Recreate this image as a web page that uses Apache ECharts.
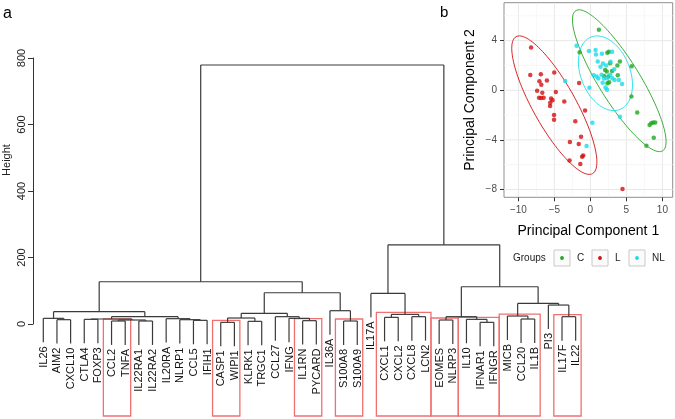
<!DOCTYPE html>
<html><head><meta charset="utf-8">
<script src="https://cdn.jsdelivr.net/npm/echarts@6/dist/echarts.min.js"></script>
<style>html,body{margin:0;padding:0;background:#fff}#c{width:675px;height:419px}</style>
</head><body><div id="c"></div>
<script>
// ---------------- DATA ----------------
// (a) dendrogram leaves, left to right
const leafLabels = ['IL26','AIM2','CXCL10','CTLA4','FOXP3','CCL2','TNFA','IL22RA1','IL22RA2','IL20RA',
  'NLRP1','CCL5','IFIH1','CASP1','WIPI1','KLRK1','TRGC1','CCL27','IFNG','IL1RN',
  'PYCARD','IL36A','S100A8','S100A9','IL17A','CXCL1','CXCL2','CXCL8','LCN2','EOMES',
  'NLRP3','IL10','IFNAR1','IFNGR','MICB','CCL20','IL1B','PI3','IL17F','IL22'];
// merges: [left child, right child, height]; string = leaf, number = earlier merge index
const merges = [
  ['AIM2','CXCL10',13], ['IL26',0,17], ['CTLA4','FOXP3',14], ['CCL2','TNFA',9], ['IL22RA1','IL22RA2',9],
  [3,4,12], [2,5,15], ['CCL5','IFIH1',11], ['NLRP1',7,13], ['IL20RA',8,16],
  [6,9,22], [1,10,37], ['CASP1','WIPI1',5], ['KLRK1','TRGC1',8], [12,13,18],
  ['IL1RN','PYCARD',10], ['IFNG',15,17], ['CCL27',16,22], [14,17,32], ['S100A8','S100A9',9],
  ['IL36A',19,40], [18,20,94], [11,21,127], ['CXCL1','CXCL2',20], ['CXCL8','LCN2',22],
  [23,24,29], ['IL17A',25,92], ['EOMES','NLRP3',12], ['IFNAR1','IFNGR',5], ['IL10',28,14],
  [27,29,22], ['CCL20','IL1B',15], ['MICB',31,24], ['IL17F','IL22',22], ['PI3',33,57],
  [32,34,62], [30,35,112], [26,36,238], [22,37,779]
];
// red boxes: [first leaf, last leaf]
const boxGroups = [['CCL2','TNFA'],['CASP1','WIPI1'],['IL1RN','PYCARD'],['S100A8','S100A9'],
  ['CXCL1','LCN2'],['EOMES','NLRP3'],['IL10','IFNGR'],['MICB','IL1B'],['IL17F','IL22']];
const heightTicks = [0,200,400,600,800];

// (b) PCA scatter
const groupNames = ['C','L','NL'];
const pointsC = [[1.18,4.87],[-1.5,3.06],[2.35,3.02],[2.58,3.1],[4.1,2.31],[3.75,2.0],[2.73,2.18],[2.04,1.64],
  [2.27,1.51],[3.01,1.56],[3.8,1.21],[1.9,1.16],[2.5,1.1],[2.6,0.65],[2.37,0.56],[5.74,1.93],[5.7,-0.51],
  [6.5,-1.8],[8.22,-2.8],[8.45,-2.66],[8.7,-2.6],[9.0,-2.6],[8.8,-3.82],[7.78,-4.47]];
const pointsL = [[-8.24,3.44],[-8.35,1.24],[-6.88,1.29],[-7.08,0.72],[-6.82,0.45],[-6.04,0.78],[-5.02,1.43],
  [-7.4,-0.03],[-6.68,-0.2],[-7.13,-0.6],[-6.85,-0.62],[-6.5,-0.6],[-5.46,-0.67],[-5.26,-0.8],[-5.58,-1.0],
  [-5.6,-1.27],[-4.8,-0.15],[-3.63,-0.91],[-5.05,-1.99],[-5.05,-2.37],[-1.57,0.59],[-0.74,-1.64],[-2.1,-2.5],
  [-2.85,-4.17],[-1.3,-3.75],[-1.62,-4.34],[-1.0,-5.25],[-1.15,-5.36],[-2.9,-5.67],[-1.4,-5.94],[4.46,-7.96]];
const pointsNL = [[-1.92,3.58],[-0.2,3.17],[0.72,3.25],[0.77,2.88],[1.6,2.95],[3.02,3.1],[1.02,2.31],[1.75,2.15],
  [2.2,2.0],[2.8,2.3],[1.4,1.9],[3.3,1.7],[0.45,1.22],[0.88,1.1],[1.1,0.95],[1.55,1.25],[1.9,0.95],[2.3,0.97],
  [3.05,0.97],[3.35,0.83],[3.95,0.83],[2.75,1.25],[4.4,0.5],[2.1,0.22],[2.3,0.05],[1.7,0.6],[-0.14,0.2],
  [-3.5,0.75],[0.28,-2.61],[4.1,-2.13],[-0.53,-4.49]];
// 95% ellipses: [cx, cy, major semi-axis (dx,dy), minor semi-axis (dx,dy)] in data units
const ellipseC  = [4.01, 0.77, 6.03, -5.65, -2.43, -0.88];
const ellipseL  = [-5.01, -1.2, 5.31, -5.52, -2.6, -0.84];
const ellipseNL = [2.09, 1.37, 2.0, -2.92, -3.18, -0.73];
const pc1MajorTicks = [-10,-5,0,5,10], pc1MinorTicks = [-7.5,-2.5,2.5,7.5];
const pc2MajorTicks = [-8,-4,0,4], pc2MinorTicks = [-6,-2,2,6];

// ---------------- STYLE / LAYOUT ----------------
const groupColors = ['#22a622','#d30f0f','#19dbe9'];
const FONT = '"Liberation Sans", Arial, Helvetica, sans-serif';
const HANG = 72;
const LINE = '#3a3a3a';
const BOX = '#f07070';

// ---------------- BUILD DENDROGRAM GEOMETRY ----------------
const nodeX = [], nodeH = [], nodeLeaves = [];
const segs = [];
const leafBottom = new Array(leafLabels.length);
function child(c, h) {
  if (typeof c === 'string') {
    const i = leafLabels.indexOf(c);
    leafBottom[i] = h - HANG;
    return {x: i, y: h - HANG, leaves: [i]};
  }
  return {x: nodeX[c], y: nodeH[c], leaves: nodeLeaves[c]};
}
merges.forEach((m, k) => {
  const h = m[2];
  const a = child(m[0], h), b = child(m[1], h);
  nodeX[k] = (a.x + b.x) / 2; nodeH[k] = h; nodeLeaves[k] = a.leaves.concat(b.leaves);
  segs.push([a.x, a.y, a.x, h], [a.x, h, b.x, h], [b.x, h, b.x, b.y]);
});
const boxData = boxGroups.map(g => {
  const i0 = leafLabels.indexOf(g[0]), i1 = leafLabels.indexOf(g[1]);
  let top = 0;
  merges.forEach((m, k) => {
    const L = nodeLeaves[k];
    if (L.length === i1 - i0 + 1 && Math.min(...L) === i0 && Math.max(...L) === i1) top = nodeH[k];
  });
  return [i0, i1, top];
});
const labelData = leafLabels.map((n, i) => [i, leafBottom[i]]);

const fmtMinus = v => String(v).replace('-', '\u2212');

const option = {
  animation: false,
  backgroundColor: '#fff',
  grid: [
    {left: 33, top: 58, width: 563, height: 266},
    {left: 504, top: 2.7, width: 168.7, height: 194.6, show: true, borderColor: '#8f8f8f', borderWidth: 1, backgroundColor: '#fff'}
  ],
  xAxis: [
    {gridIndex: 0, type: 'value', min: -0.755, max: 40.49, show: false},
    {gridIndex: 1, type: 'value', min: -12, max: 11.43,
      axisLine: {show: false, onZero: false},
      axisTick: {show: true, length: 4, lineStyle: {color: '#333'}, customValues: pc1MajorTicks},
      axisLabel: {customValues: pc1MajorTicks, formatter: fmtMinus, color: '#4d4d4d', fontSize: 10, fontFamily: FONT, margin: 8},
      splitLine: {show: false},
      name: 'Principal Component 1', nameLocation: 'middle', nameGap: 27,
      nameTextStyle: {fontSize: 14, color: '#000', fontFamily: FONT}}
  ],
  yAxis: [
    {gridIndex: 0, type: 'value', min: 0, max: 800, interval: 200,
      axisLine: {show: true, onZero: false, lineStyle: {color: '#333', width: 1}},
      axisTick: {show: true, length: 5, lineStyle: {color: '#333'}},
      axisLabel: {rotate: 90, fontSize: 11, color: '#222', fontFamily: FONT, margin: 6},
      splitLine: {show: false}},
    {gridIndex: 1, type: 'value', min: -8.63, max: 7.06,
      axisLine: {show: false, onZero: false},
      axisTick: {show: true, length: 4, lineStyle: {color: '#333'}, customValues: pc2MajorTicks},
      axisLabel: {customValues: pc2MajorTicks, formatter: fmtMinus, color: '#4d4d4d', fontSize: 10, fontFamily: FONT, margin: 7},
      splitLine: {show: false},
      name: 'Principal Component 2', nameLocation: 'middle', nameGap: 27, nameRotate: 90,
      nameTextStyle: {fontSize: 14, color: '#000', fontFamily: FONT}}
  ],
  graphic: [
    {type: 'text', left: 3, top: 6, style: {text: 'a', font: '16px ' + FONT, fill: '#000'}},
    {type: 'text', left: 440, top: 5, style: {text: 'b', font: '15px ' + FONT, fill: '#000'}},
    {type: 'text', x: 7, y: 160, rotation: Math.PI / 2, style: {text: 'Height', font: '11px ' + FONT, fill: '#222', align: 'center', verticalAlign: 'middle'}},
    {type: 'text', x: 513, y: 258, style: {text: 'Groups', font: '10px ' + FONT, fill: '#222', verticalAlign: 'middle'}},
  ].concat(groupNames.flatMap((g, i) => {
    const bx = [554, 592, 629][i];
    return [
      {type: 'rect', shape: {x: bx, y: 250, width: 16, height: 16}, style: {fill: '#fbfbfb', stroke: '#c9c9c9', lineWidth: 1}},
      {type: 'circle', shape: {cx: bx + 8, cy: 258, r: 1.9}, style: {fill: groupColors[i]}},
      {type: 'text', x: bx + 23, y: 258, style: {text: g, font: '10px ' + FONT, fill: '#222', verticalAlign: 'middle'}}
    ];
  })),
  series: [
    // dendrogram
    {type: 'custom', xAxisIndex: 0, yAxisIndex: 0, clip: false, silent: true, z: 3,
      data: segs,
      renderItem(params, api) {
        const p1 = api.coord([api.value(0), api.value(1)]);
        const p2 = api.coord([api.value(2), api.value(3)]);
        return {type: 'line', shape: {x1: p1[0], y1: p1[1], x2: p2[0], y2: p2[1]},
          style: {stroke: LINE, lineWidth: 1.2}};
      }},
    // leaf labels
    {type: 'custom', xAxisIndex: 0, yAxisIndex: 0, clip: false, silent: true, z: 3,
      data: labelData,
      renderItem(params, api) {
        const p = api.coord([api.value(0), api.value(1)]);
        return {type: 'text', x: p[0] + 0.5, y: p[1] + 4, rotation: Math.PI / 2,
          style: {text: leafLabels[params.dataIndex], font: '11px ' + FONT, fill: '#111', align: 'right', verticalAlign: 'middle'}};
      }},
    // red boxes
    {type: 'custom', xAxisIndex: 0, yAxisIndex: 0, clip: false, silent: true, z: 2,
      data: boxData,
      renderItem(params, api) {
        const p1 = api.coord([api.value(0) - 0.6, api.value(2) + 6]);
        const p2 = api.coord([api.value(1) + 0.4, 0]);
        return {type: 'rect', shape: {x: p1[0], y: p1[1], width: p2[0] - p1[0], height: p2[1] + 92 - p1[1]},
          style: {fill: 'none', stroke: BOX, lineWidth: 1.3}};
      }},
    // panel b gridlines
    {type: 'custom', xAxisIndex: 1, yAxisIndex: 1, clip: true, silent: true, z: 1,
      data: [].concat(pc1MajorTicks.map(v => [0, v, 1]), pc1MinorTicks.map(v => [0, v, 0]),
                      pc2MajorTicks.map(v => [1, v, 1]), pc2MinorTicks.map(v => [1, v, 0])),
      renderItem(params, api) {
        const cs = params.coordSys;
        const o = api.value(0), v = api.value(1), major = api.value(2);
        let shape;
        if (o === 0) { const x = api.coord([v, 0])[0]; shape = {x1: x, y1: cs.y, x2: x, y2: cs.y + cs.height}; }
        else { const y = api.coord([0, v])[1]; shape = {x1: cs.x, y1: y, x2: cs.x + cs.width, y2: y}; }
        return {type: 'line', shape, style: {stroke: major ? '#e8e8e8' : '#f3f3f3', lineWidth: major ? 1 : 0.7}};
      }},
    // ellipses
    {type: 'custom', xAxisIndex: 1, yAxisIndex: 1, clip: false, silent: true, z: 3,
      data: [ellipseC, ellipseL, ellipseNL],
      renderItem(params, api) {
        const e = [0,1,2,3,4,5].map(d => api.value(d));
        const pts = [];
        for (let k = 0; k < 120; k++) {
          const t = k / 120 * Math.PI * 2;
          pts.push(api.coord([e[0] + e[2] * Math.cos(t) + e[4] * Math.sin(t), e[1] + e[3] * Math.cos(t) + e[5] * Math.sin(t)]));
        }
        return {type: 'polygon', shape: {points: pts}, style: {fill: 'none', stroke: groupColors[params.dataIndex], lineWidth: 0.9}};
      }},
    {type: 'scatter', name: 'C', xAxisIndex: 1, yAxisIndex: 1, data: pointsC, symbolSize: 4.5, itemStyle: {color: groupColors[0]}, z: 4},
    {type: 'scatter', name: 'L', xAxisIndex: 1, yAxisIndex: 1, data: pointsL, symbolSize: 4.5, itemStyle: {color: groupColors[1]}, z: 4},
    {type: 'scatter', name: 'NL', xAxisIndex: 1, yAxisIndex: 1, data: pointsNL, symbolSize: 4.5, itemStyle: {color: groupColors[2]}, z: 4}
  ]
};
const chart = echarts.init(document.getElementById('c'));
chart.setOption(option);
</script></body></html>
